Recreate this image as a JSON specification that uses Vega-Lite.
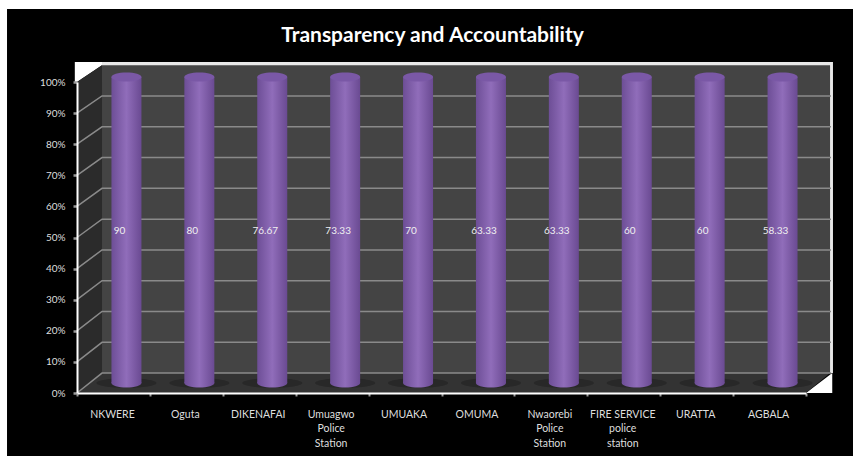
{
"$schema":"https://vega.github.io/schema/vega-lite/v6.json",
"width":729,"height":311,
"autosize":"none",
"padding":{"left":77,"top":82,"right":47,"bottom":64},
"background":"#ffffff",
"title":{"text":"Transparency and Accountability","color":"#ffffff","font":"Lato","fontSize":21,"fontWeight":"bold","anchor":"middle","dx":-9,"offset":-37,"zindex":1},
"config":{"view":{"stroke":null},"font":"Lato"},
"datasets":{
"bars":[
{"station":"NKWERE","share":100,"score":90},
{"station":"Oguta","share":100,"score":80},
{"station":"DIKENAFAI","share":100,"score":76.67},
{"station":"Umuagwo Police Station","share":100,"score":73.33},
{"station":"UMUAKA","share":100,"score":70},
{"station":"OMUMA","share":100,"score":63.33},
{"station":"Nwaorebi Police Station","share":100,"score":63.33},
{"station":"FIRE\u00a0SERVICE police station","share":100,"score":60},
{"station":"URATTA","share":100,"score":60},
{"station":"AGBALA","share":100,"score":58.33}
],
"grid":[
{"v":0,"x":0,"y":0},{"v":0,"x":0.343,"y":6.4},{"v":0,"x":10.343,"y":6.4},
{"v":10,"x":0,"y":10},{"v":10,"x":0.343,"y":16.3},{"v":10,"x":10.343,"y":16.3},
{"v":20,"x":0,"y":20},{"v":20,"x":0.343,"y":26.2},{"v":20,"x":10.343,"y":26.2},
{"v":30,"x":0,"y":30},{"v":30,"x":0.343,"y":36.1},{"v":30,"x":10.343,"y":36.1},
{"v":40,"x":0,"y":40},{"v":40,"x":0.343,"y":46},{"v":40,"x":10.343,"y":46},
{"v":50,"x":0,"y":50},{"v":50,"x":0.343,"y":55.9},{"v":50,"x":10.343,"y":55.9},
{"v":60,"x":0,"y":60},{"v":60,"x":0.343,"y":65.8},{"v":60,"x":10.343,"y":65.8},
{"v":70,"x":0,"y":70},{"v":70,"x":0.343,"y":75.7},{"v":70,"x":10.343,"y":75.7},
{"v":80,"x":0,"y":80},{"v":80,"x":0.343,"y":85.6},{"v":80,"x":10.343,"y":85.6},
{"v":90,"x":0,"y":90},{"v":90,"x":0.343,"y":95.5},{"v":90,"x":10.343,"y":95.5}
]
},
"resolve":{"scale":{"x":"independent","y":"independent"}},
"layer":[
{
"encoding":{
"x":{"field":"x","type":"quantitative","axis":null,"scale":{"domain":[0,10],"nice":false,"zero":false}},
"x2":{"field":"x2"},
"y":{"field":"y","type":"quantitative","axis":null,"scale":{"domain":[0,100],"nice":false,"zero":false}},
"y2":{"field":"y2"}
},
"layer":[
{"data":{"values":[{"x":-0.96,"x2":10.65,"y":-20.26,"y2":123.5}]},"mark":{"type":"rect","color":"#000000"}},
{"data":{"values":[{"x":0.343,"x2":10.37,"y":6.4,"y2":106.4}]},"mark":{"type":"rect","color":"#e8e8e8"}},
{"data":{"values":[{"x":0.343,"x2":10.33,"y":6.4,"y2":105.4}]},"mark":{"type":"rect","color":"#444444"}},
{"data":{"values":[{"x":-0.03,"y":100,"y2":106.4},{"x":0,"y":100,"y2":106.4},{"x":0.343,"y":105.4,"y2":106.4}]},"mark":{"type":"area","color":"#ffffff","orient":"vertical"},"encoding":{"x2":null}},
{"data":{"values":[{"x":10,"y":0,"y2":0},{"x":10.36,"y":0,"y2":6.4}]},"mark":{"type":"area","color":"#ffffff","orient":"vertical"},"encoding":{"x2":null}},
{"data":{"values":[{"x":0,"y":0,"y2":100},{"x":0.343,"y":6.4,"y2":105.4}]},"mark":{"type":"area","color":"#2b2b2b","orient":"vertical"},"encoding":{"x2":null}},
{"data":{"values":[{"x":0,"y":0,"y2":0},{"x":0.343,"y":0,"y2":6.4},{"x":10,"y":0,"y2":6.4},{"x":10.33,"y":6.4,"y2":6.4}]},"mark":{"type":"area","color":"#333333","orient":"vertical"},"encoding":{"x2":null}},
{"data":{"name":"grid"},"mark":{"type":"line","color":"#8a8a8a","strokeWidth":1.5},"encoding":{"x2":null,"y2":null,"detail":{"field":"v"}}}
]
},
{
"data":{"name":"bars"},
"encoding":{
"x":{"field":"station","type":"nominal","sort":null,"scale":{"paddingInner":0,"paddingOuter":0},
"axis":{"title":null,"labelAngle":0,"labelColor":"#dedede","labelFont":"Lato","labelFontSize":10.5,"labelPadding":13,"labelLineHeight":14.5,"labelLimit":120,"labelOffset":-1.5,"labelExpr":"split(datum.label,' ')","domainColor":"#ffffff","domainWidth":2,"tickColor":"#999999","tickSize":3,"tickWidth":2,"tickBand":"extent","zindex":1,"grid":false}},
"y":{"field":"share","type":"quantitative","scale":{"domain":[0,100],"nice":false,"zero":false},
"axis":{"title":null,"values":[0,10,20,30,40,50,60,70,80,90,100],"labelExpr":"datum.value+'%'","labelColor":"#dedede","labelFont":"Lato","labelFontSize":10,"labelPadding":8,"domainColor":"#ffffff","domainWidth":2,"tickColor":"#999999","tickSize":4,"tickWidth":2.5,"grid":false,"zindex":1}}
},
"layer":[
{"mark":{"type":"point","filled":true,"shape":"M-1,0 A1,0.16 0 1 0 1,0 A1,0.16 0 1 0 -1,0 Z","size":3600,"color":"#1f1f1f","opacity":0.55,"xOffset":13,"yOffset":-10},"encoding":{"y":{"datum":0}}},
{"mark":{"type":"bar","width":30,"xOffset":13,"yOffset":-5,"y2Offset":-10,"color":{"x1":0,"x2":1,"y1":0,"y2":0,"gradient":"linear","stops":[{"offset":0,"color":"#6d4e96"},{"offset":0.5,"color":"#906dba"},{"offset":1,"color":"#6a4a92"}]}},"encoding":{"y2":{"datum":0}}},
{"mark":{"type":"point","filled":true,"shape":"M-1,0 A1,0.3 0 1 0 1,0 A1,0.3 0 1 0 -1,0 Z","size":900,"opacity":1,"xOffset":13,"yOffset":-10,"color":{"x1":0,"x2":1,"y1":0,"y2":0,"gradient":"linear","stops":[{"offset":0,"color":"#6d4e96"},{"offset":0.5,"color":"#906dba"},{"offset":1,"color":"#6a4a92"}]}},"encoding":{"y":{"datum":0}}},
{"mark":{"type":"point","filled":true,"shape":"M-1,0 A1,0.3 0 1 0 1,0 A1,0.3 0 1 0 -1,0 Z","size":900,"opacity":1,"color":"#7a58a6","xOffset":13,"yOffset":-5}},
{"mark":{"type":"text","color":"#f0f0f0","font":"Lato","fontSize":10,"xOffset":6,"yOffset":-7},"encoding":{"y":{"datum":50},"text":{"field":"score","type":"quantitative"}}}
]
}
]
}
